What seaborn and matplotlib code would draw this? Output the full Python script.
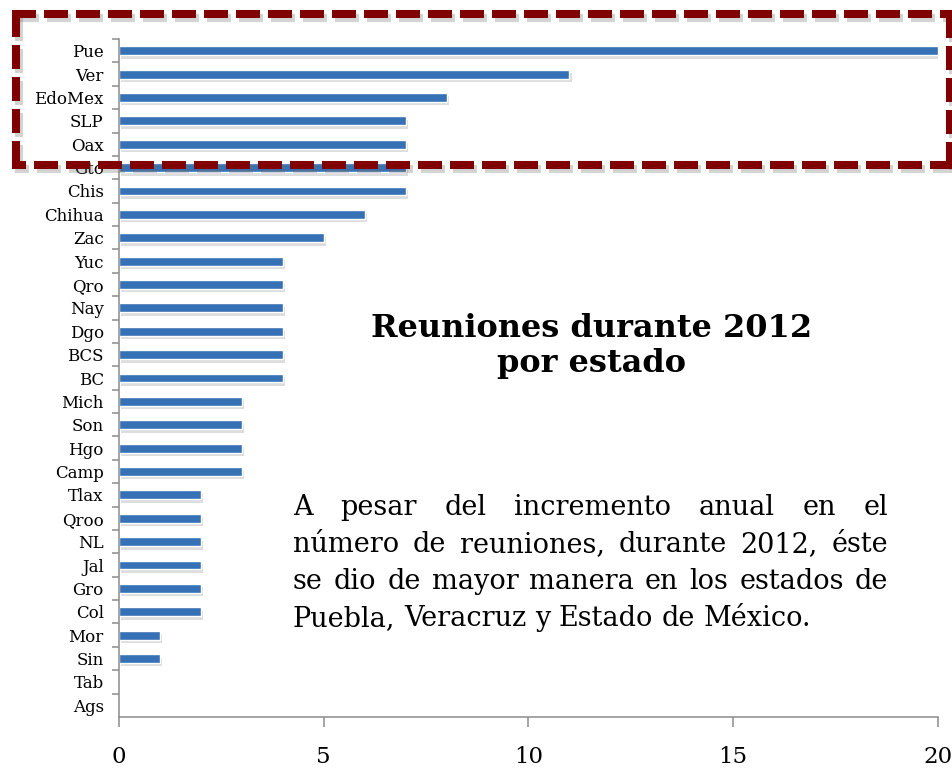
import matplotlib
matplotlib.use("Agg")
import matplotlib.pyplot as plt
import matplotlib.patheffects as pe
from matplotlib.collections import LineCollection
import numpy as np
import pandas as pd
import seaborn as sns

estados = ["Pue", "Ver", "EdoMex", "SLP", "Oax", "Gto", "Chis", "Chihua", "Zac",
           "Yuc", "Qro", "Nay", "Dgo", "BCS", "BC", "Mich", "Son", "Hgo", "Camp",
           "Tlax", "Qroo", "NL", "Jal", "Gro", "Col", "Mor", "Sin", "Tab", "Ags"]
reuniones = [20, 11, 8, 7, 7, 7, 7, 6, 5,
             4, 4, 4, 4, 4, 4, 3, 3, 3, 3,
             2, 2, 2, 2, 2, 2, 1, 1, 0, 0]
x_ticks = [0, 5, 10, 15, 20]

titulo = ["Reuniones durante 2012", "por estado"]
parrafo = ["A pesar del incremento anual en el",
           "número de reuniones, durante 2012, éste",
           "se dio de mayor manera en los estados de",
           "Puebla, Veracruz y Estado de México."]

sns.set_style("white")
plt.rcParams["font.family"] = ["DejaVu Serif"]
plt.rcParams["text.color"] = "black"
plt.rcParams["xtick.color"] = "black"
plt.rcParams["ytick.color"] = "black"

W, H = 953, 770
fig = plt.figure(figsize=(W / 100, H / 100), dpi=100)
ax = fig.add_axes([119 / W, 1 - 717 / H, (938 - 119) / W, (717 - 39) / H])

df = pd.DataFrame({"estado": estados, "reuniones": reuniones})
sns.barplot(data=df, x="reuniones", y="estado", orient="h", color="#3670B5",
            width=0.38, saturation=1, ax=ax)
for p in ax.patches:
    p.set_path_effects([pe.SimplePatchShadow(offset=(1.5, -2.5), shadow_rgbFace="#909090", alpha=0.3),
                        pe.Normal()])

gris = "#8c8c8c"
ax.set_xlim(0, 20)
ax.set_ylim(len(estados) - 0.5, -0.5)
ax.set_xticks(x_ticks)
ax.set_xticklabels([str(v) for v in x_ticks], fontsize=16.5)
ax.set_yticks(np.arange(len(estados)) - 0.5, minor=True)
ax.tick_params(axis="y", which="major", length=0, pad=11, labelsize=12, labelcolor="black")
ax.tick_params(axis="y", which="minor", length=5, width=1.1, color=gris, direction="out", left=True)
ax.tick_params(axis="x", which="major", length=7, width=1.1, color=gris, direction="out",
               bottom=True, pad=14, labelcolor="black")
ax.set_xlabel("")
ax.set_ylabel("")
for s in ["top", "right"]:
    ax.spines[s].set_visible(False)
for s in ["left", "bottom"]:
    ax.spines[s].set_color(gris)
    ax.spines[s].set_linewidth(1.1)

# title
for txt, yb in zip(titulo, [337, 372]):
    fig.text(592 / W, 1 - yb / H, txt, ha="center", va="baseline",
             fontsize=23, fontweight="bold")

# justified paragraph
renderer = fig.canvas.get_renderer()
x0, x1 = 293, 888
for i, (line, yb) in enumerate(zip(parrafo, [515, 552, 589, 626])):
    words = line.split(" ")
    objs = [fig.text(0, 1 - yb / H, w, ha="left", va="baseline", fontsize=19.5) for w in words]
    widths = [o.get_window_extent(renderer).width for o in objs]
    if i < len(parrafo) - 1:
        gap = (x1 - x0 - sum(widths)) / (len(words) - 1)
    else:
        sp = fig.text(0, 0, "a a", fontsize=19.5)
        sa = fig.text(0, 0, "aa", fontsize=19.5)
        gap = sp.get_window_extent(renderer).width - sa.get_window_extent(renderer).width
        sp.remove()
        sa.remove()
    x = x0
    for o, w in zip(objs, widths):
        o.set_x(x / W)
        x += w + gap

# dashed highlight box (dashes built in pixels: 24 on / 8 off)
def dash_segs(p, q, on=24, off=8):
    p, q = np.array(p, float), np.array(q, float)
    n = np.linalg.norm(q - p)
    u = (q - p) / n
    segs, s = [], 0.0
    while s < n:
        e = min(s + on, n)
        segs.append([p + u * s, p + u * e])
        s += on + off
    return segs

L, T, R, B = 16, 14, 950, 165
esquinas = [(L - 4, T), (R, T), (R, B), (L, B), (L, T - 4)]
segs = []
for a, b in [((L - 4, T), (R + 4, T)), ((R, T), (R, B + 4)),
             ((R + 4, B), (L - 4, B)), ((L, B), (L, T))]:
    segs += dash_segs(a, b)
for dx, dy, col, alpha, z in [(3, 4, "#707070", 0.3, 4), (0, 0, "#800000", 1.0, 5)]:
    pts = [[((x + dx) / W, 1 - (y + dy) / H) for x, y in sg] for sg in segs]
    lc = LineCollection(pts, colors=col, alpha=alpha, linewidths=5.8,
                        transform=fig.transFigure, zorder=z, capstyle="butt")
    fig.add_artist(lc)

fig.savefig("out.png", dpi=100)
